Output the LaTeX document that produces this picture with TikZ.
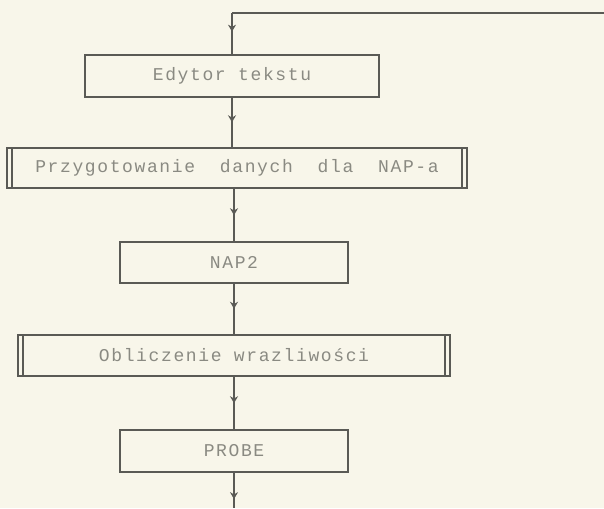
\documentclass[tikz,border=0pt]{standalone}
\usepackage{fontspec}
\setmonofont[LetterSpace=9]{Liberation Mono}
\usetikzlibrary{arrows.meta,decorations.markings}
\definecolor{paper}{HTML}{F8F6EA}
\definecolor{ink}{HTML}{5A5A55}
\definecolor{txt}{HTML}{8A8A82}
\tikzset{
  box/.style={draw=ink, line width=1.1pt, rectangle, inner sep=0pt,
    font=\ttfamily\fontsize{18}{20}\selectfont, text=txt},
  thickbox/.style={box, line width=2pt,
    path picture={
      \draw[ink, line width=1.2pt]
        ([xshift=5pt]path picture bounding box.north west) --
        ([xshift=5pt]path picture bounding box.south west)
        ([xshift=-5pt]path picture bounding box.north east) --
        ([xshift=-5pt]path picture bounding box.south east);}},
  flow/.style={draw=ink, line width=1.2pt,
    postaction={decorate},
    decoration={markings, mark=at position #1 with {\arrow{Stealth[length=7pt,width=8pt]}}}},
  flow/.default=0.5
}
\begin{document}
\begin{tikzpicture}[x=1pt,y=-1pt]
  \fill[paper] (0,0) rectangle (604,508);
  \useasboundingbox (0,0) rectangle (604,508);
  \node[box, minimum width=294pt, minimum height=42pt] (b1) at (232,76) {Edytor tekstu};
  \node[thickbox, minimum width=460pt, minimum height=40pt] (b2) at (237,168)
    {Przygotowanie\ \ danych\ \ dla\ \ NAP-a};
  \node[box, minimum width=228pt, minimum height=41pt] (b3) at (234,262.5) {NAP2};
  \node[thickbox, minimum width=432pt, minimum height=41pt] (b4) at (234,355.5)
    {Obliczenie wrazliwości};
  \node[box, minimum width=228pt, minimum height=42pt] (b5) at (234,451) {PROBE};
  \coordinate (topR) at (604,13);
  \coordinate (bottom) at (234,508);
  \draw[ink, line width=1.2pt] (topR) -- (b1.north |- topR);
  \draw[flow=0.45] (b1.north |- topR) -- (b1.north);
  \draw[flow] (b1.south) -- (b1.south |- b2.north);
  \draw[flow] (b3.north |- b2.south) -- (b3.north);
  \draw[flow] (b3.south) -- (b3.south |- b4.north);
  \draw[flow] (b4.south) -- (b5.north);
  \draw[flow=0.75] (b5.south) -- (bottom);
\end{tikzpicture}
\end{document}
